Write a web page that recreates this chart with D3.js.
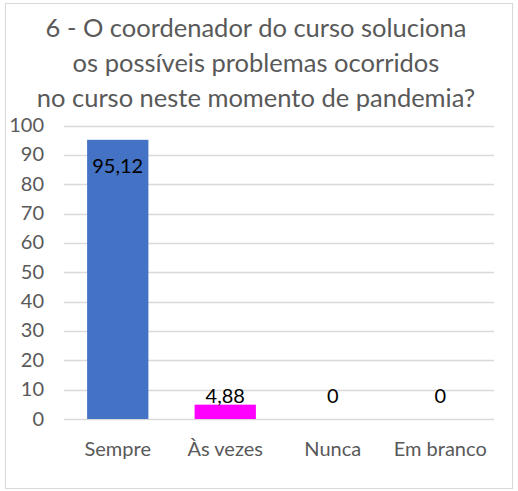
<!DOCTYPE html>
<html><head><meta charset="utf-8">
<script src="https://cdn.jsdelivr.net/npm/d3@7"></script>
<style>body{margin:0;background:#fff}svg{display:block}</style>
</head><body>
<script>
const categories = ["Sempre", "Às vezes", "Nunca", "Em branco"];
const values = [95.12, 4.88, 0, 0];
const labels = ["95,12", "4,88", "0", "0"];
const colors = ["#4472C4", "#FF00FF", "#4472C4", "#4472C4"];
const yTicks = [0,10,20,30,40,50,60,70,80,90,100];
const titleLines = ["6 - O coordenador do curso soluciona", "os possíveis problemas ocorridos", "no curso neste momento de pandemia?"];

const W = 518, H = 491;
const font = "Lato, 'Open Sans', sans-serif";
const svg = d3.select("body").append("svg").attr("width", W).attr("height", H);
svg.append("rect").attr("x",5.5).attr("y",3.5).attr("width",507).attr("height",485)
  .attr("fill","#fff").attr("stroke","#d9d9d9").attr("stroke-width",1);

const x = d3.scaleBand().domain(categories).range([64, 494]).paddingInner(0.43).paddingOuter(0.215);
const y = d3.scaleLinear().domain([0,100]).range([419, 125.5]);

svg.append("g").selectAll("line").data(yTicks).join("line")
  .attr("x1",64).attr("x2",494).attr("y1",d=>Math.round(y(d))+0.5).attr("y2",d=>Math.round(y(d))+0.5)
  .attr("stroke","#d9d9d9").attr("stroke-width",1.3);

svg.append("g").selectAll("text").data(yTicks).join("text")
  .attr("x",44).attr("y",d=>y(d)+6.5).attr("text-anchor","end")
  .attr("font-family",font).attr("font-size",20).attr("fill","#595959").text(d=>d);

svg.append("g").selectAll("rect").data(values).join("rect")
  .attr("x",(d,i)=>x(categories[i])).attr("width",x.bandwidth())
  .attr("y",d=>y(d)).attr("height",d=>y(0)-y(d)).attr("fill",(d,i)=>colors[i]);

svg.append("g").selectAll("text").data(values).join("text")
  .attr("x",(d,i)=>x(categories[i])+x.bandwidth()/2)
  .attr("y",d=> d>50 ? y(d)+33 : y(0)-16)
  .attr("text-anchor","middle").attr("font-family",font).attr("font-size",20).attr("fill","#000")
  .text((d,i)=>labels[i]);

svg.append("g").selectAll("text").data(categories).join("text")
  .attr("x",d=>x(d)+x.bandwidth()/2).attr("y",456).attr("text-anchor","middle")
  .attr("font-family",font).attr("font-size",20).attr("fill","#595959").text(d=>d);

svg.append("g").selectAll("text").data(titleLines).join("text")
  .attr("x",256).attr("y",(d,i)=>37+i*35).attr("text-anchor","middle")
  .attr("font-family",font).attr("font-size",25.5).attr("fill","#595959").text(d=>d);
</script>
</body></html>
